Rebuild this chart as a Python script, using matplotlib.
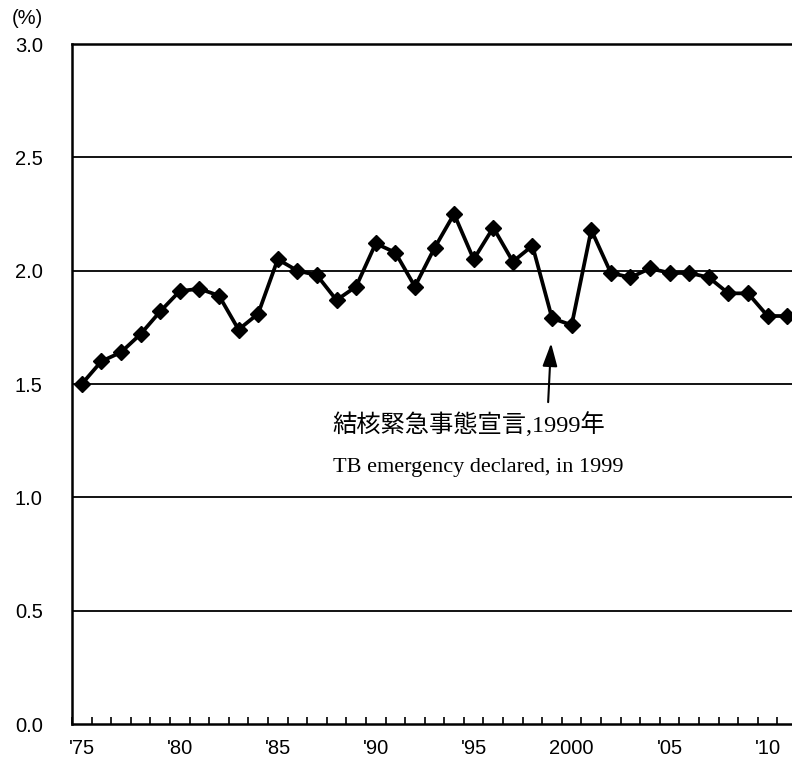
import numpy as np
import matplotlib
matplotlib.use('Agg')
import matplotlib.pyplot as plt

years = list(range(1975, 2012))
rate = [1.50, 1.60, 1.64, 1.72, 1.82, 1.91, 1.92, 1.89, 1.74, 1.81,
        2.05, 2.00, 1.98, 1.87, 1.93, 2.12, 2.08, 1.93, 2.10, 2.25,
        2.05, 2.19, 2.04, 2.11, 1.79, 1.76, 2.18, 1.99, 1.97, 2.01,
        1.99, 1.99, 1.97, 1.90, 1.90, 1.80, 1.80]
tick_years = [1975, 1980, 1985, 1990, 1995, 2000, 2005, 2010]
tick_labels = ["'75", "'80", "'85", "'90", "'95", "2000", "'05", "'10"]
y_ticks = [0.0, 0.5, 1.0, 1.5, 2.0, 2.5, 3.0]

note_jp = '結核緊急事態宣言,1999年'
note_en = 'TB emergency declared, in 1999'

fig = plt.figure(figsize=(7.92, 7.64), dpi=100)
ax = fig.add_axes([72 / 792, 40 / 764, 725 / 792, 680 / 764])

x = np.arange(len(years))
ax.plot(x, rate, color='black', lw=2.7, marker='D', ms=8.5,
        markerfacecolor='black', markeredgecolor='black', zorder=3)

ax.set_xlim(-0.5, len(years) - 0.5)
ax.set_ylim(0, 3.0)

# y axis
ax.set_yticks(y_ticks)
ax.set_yticklabels(['%.1f' % v for v in y_ticks], family='Liberation Sans',
                   fontsize=14.5)
ax.tick_params(axis='y', length=0, pad=21)
for v in y_ticks[1:-1]:
    ax.axhline(v, color='black', lw=1.3, zorder=1)

# x axis: ticks at category boundaries, labels at category centres
ax.set_xticks(np.arange(len(years) + 1) - 0.5)
ax.set_xticklabels([])
ax.tick_params(axis='x', which='major', direction='in', length=5, width=1.2)
ax.set_xticks([years.index(y) for y in tick_years], minor=True)
ax.set_xticklabels(tick_labels, minor=True, family='Liberation Sans',
                   fontsize=14.5)
ax.tick_params(axis='x', which='minor', length=0, pad=11)

for s in ['left', 'bottom', 'top', 'right']:
    ax.spines[s].set_linewidth(1.8)

fig.text(12 / 792, 1 - 18 / 764, '(%)', family='Liberation Sans',
         fontsize=14.5, va='center', ha='left')

ax.annotate('', xy=(23.95, 1.68), xytext=(23.8, 1.42),
            arrowprops=dict(arrowstyle='-|>,head_length=1.4,head_width=0.45',
                            color='black', lw=1.5, shrinkA=0, shrinkB=0))
ax.text(12.8, 1.32, note_jp, family=['Liberation Serif', 'Noto Sans CJK JP'],
        fontsize=17.5, ha='left', va='center')
ax.text(12.8, 1.13, note_en, family='Liberation Serif', fontsize=16,
        ha='left', va='center')

fig.savefig('out.png', dpi=100)
